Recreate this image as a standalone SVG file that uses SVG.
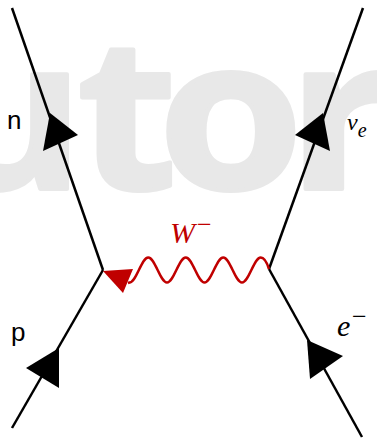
<svg xmlns="http://www.w3.org/2000/svg" width="377" height="439" viewBox="0 0 377 439">
<style>
.wm{font-family:"Open Sans","Liberation Sans",sans-serif;font-weight:bold;font-size:210px;fill:#e8e8e8;stroke:#e8e8e8;stroke-width:4;stroke-linejoin:round}
.ln{stroke:#000;stroke-width:2.5;fill:none;stroke-linecap:butt}
.ah{fill:#000;stroke:none}
.lab{font-family:"Liberation Sans",Arial,sans-serif;font-size:26px;fill:#000}
.math{font-family:"Liberation Serif","DejaVu Serif",serif;font-style:italic;fill:#000}
.red{fill:#c00000}
</style>
<rect width="377" height="439" fill="#fff"/>
<g id="watermark">
<text class="wm" transform="translate(-67,189) scale(1.1,1)">u</text>
<text class="wm" transform="translate(77,189) scale(1.1,1)">t</text>
<text class="wm" transform="translate(158,189) scale(1.12,1)">o</text>
<text class="wm" transform="translate(287,189) scale(1.15,1)">r</text>
</g>
<g id="connectors">
<line class="ln" x1="12" y1="8" x2="103" y2="270"/>
<line class="ln" x1="103" y1="270" x2="12" y2="428"/>
<line class="ln" x1="363" y1="8" x2="269" y2="269"/>
<line class="ln" x1="269" y1="269" x2="362" y2="437"/>
<path d="M128,283 L129.5,282.5 c6.83,0 11.92,-25 18.75,-25 s11.92,25 18.75,25 s11.92,-25 18.75,-25 s11.92,25 18.75,25 s11.92,-25 18.75,-25 s11.92,25 18.75,25 s11.92,-25 18.75,-25 c3.4,0 6.2,5 8.25,11.5" fill="none" stroke="#c00000" stroke-width="2.5"/>
<polygon class="ah" points="50,113 78,135 43,151"/>
<polygon class="ah" points="323,113 295,135 330,151"/>
<polygon class="ah" points="26,368 59,348 59,388"/>
<polygon class="ah" points="307,340 343,356 310,379"/>
<polygon fill="#c00000" points="103,271 133,269 123,293"/>
</g>
<g id="label-n"><text class="lab" x="7" y="129">n</text></g>
<g id="label-p"><text class="lab" x="11" y="341">p</text></g>
<g id="label-nue"><text class="math" x="347" y="130" font-size="24">ν<tspan font-size="20" dy="7">e</tspan></text></g>
<g id="label-eminus"><text class="math" x="337" y="336" font-size="30">e<tspan x="352" font-size="26" dy="-11.5" font-style="normal">−</tspan></text></g>
<g id="label-W"><text class="math red" x="170" y="243" font-size="30">W<tspan x="197" font-size="26" dy="-10.5" font-style="normal">−</tspan></text></g>
</svg>
